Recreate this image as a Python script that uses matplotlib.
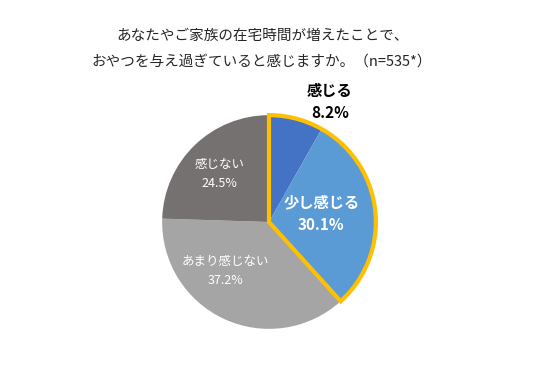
import matplotlib.pyplot as plt
from matplotlib.patches import Wedge

plt.rcParams['font.family'] = ['Noto Sans CJK JP', 'DejaVu Sans']

# データ
categories = ['感じる', '少し感じる', 'あまり感じない', '感じない']
values = [8.2, 30.1, 37.2, 24.5]
colors = ['#4472C4', '#5B9BD5', '#A5A5A5', '#767171']

fig = plt.figure(figsize=(5.56, 3.74), dpi=100)

cx, cy, r = 269, 222, 109
ax = fig.add_axes([(cx - r) / 556, (374 - cy - r) / 374, 2 * r / 556, 2 * r / 374])
ax.pie(values, colors=colors, startangle=90, counterclock=False,
       wedgeprops=dict(linewidth=0))

# 「感じる」+「少し感じる」を黄色で囲む
total = sum(values)
feel = values[0] + values[1]
ax.add_patch(Wedge((0, 0), 1, 90 - feel / total * 360, 90,
                   facecolor='none', edgecolor='#FFC000', linewidth=3, zorder=5))

ax.set_xlim(-1.02, 1.02)
ax.set_ylim(-1.02, 1.02)
ax.set_aspect('equal')
ax.axis('off')

# ラベル
ax.text(0.57, 1.12, f'{categories[0]}\n{values[0]}%', ha='center', va='center',
        fontsize=11, fontweight='bold', color='black', linespacing=1.45)
ax.text(0.49, 0.08, f'{categories[1]}\n{values[1]}%', ha='center', va='center',
        fontsize=11, fontweight='bold', color='white', linespacing=1.55)
ax.text(-0.41, -0.46, f'{categories[2]}\n{values[2]}%', ha='center', va='center',
        fontsize=9, color='white', linespacing=1.6)
ax.text(-0.46, 0.45, f'{categories[3]}\n{values[3]}%', ha='center', va='center',
        fontsize=9, color='white', linespacing=1.6)

fig.text(0.473, 0.905, 'あなたやご家族の在宅時間が増えたことで、', ha='center', va='center',
         fontsize=10.5, color='#262626')
fig.text(0.470, 0.835, 'おやつを与え過ぎていると感じますか。（n=535*）', ha='center', va='center',
         fontsize=10.5, color='#262626')

fig.savefig('out.png', dpi=100, facecolor='white')
